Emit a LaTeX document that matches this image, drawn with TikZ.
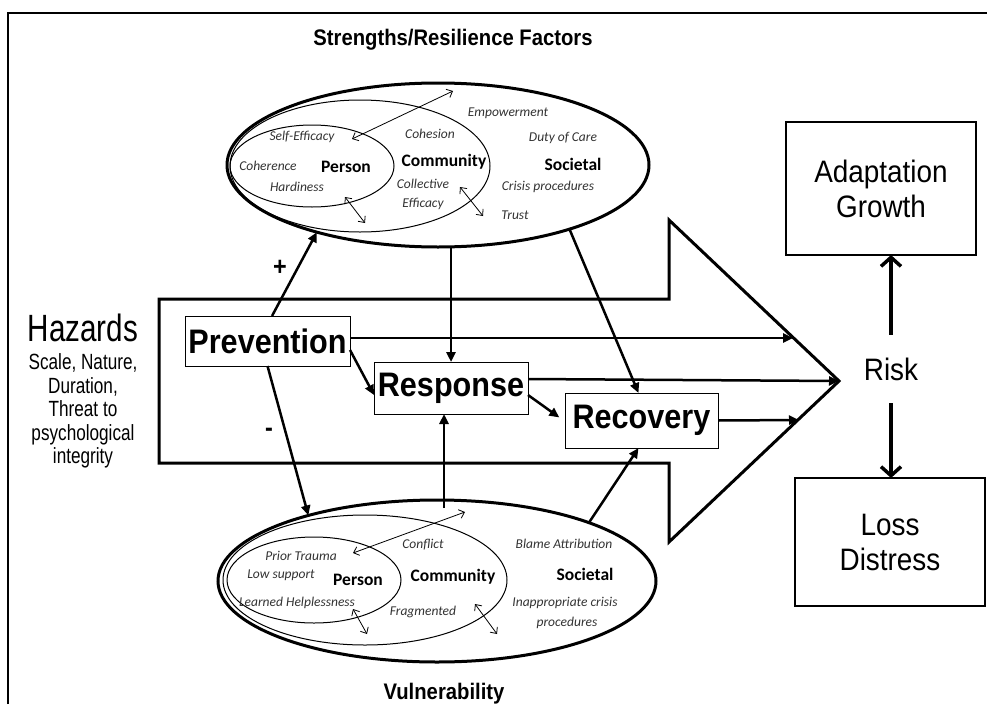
\documentclass[tikz,border=0pt]{standalone}
\usepackage{fontspec}
\setmainfont{Liberation Sans}
\newfontfamily\arialn[FakeStretch=0.9]{Liberation Sans}
\newfontfamily\arialnn[FakeStretch=0.78]{Liberation Sans}
\newfontfamily\calfont{Carlito}
\usetikzlibrary{arrows.meta,shapes.geometric}
\newcommand\setfs[2]{\fontsize{#1}{#2}\selectfont}
\begin{document}
\begin{tikzpicture}[x=1pt,y=-1pt,
  bigell/.style={ellipse, draw, line width=3pt, inner sep=0pt, outer sep=0pt},
  smallell/.style={ellipse, draw, line width=1pt, inner sep=0pt, outer sep=0pt},
  proc/.style={draw, fill=white, line width=1pt, inner sep=0pt, outer sep=0pt, font=\arialn\bfseries\setfs{34}{40}},
  outc/.style={draw, line width=2pt, inner sep=0pt, outer sep=0pt, align=center, font=\arialn\setfs{31}{35}},
  lab/.style={font=\calfont\itshape\setfs{13.5}{16}, text=black!80, inner sep=0pt},
  lvl/.style={font=\calfont\bfseries\setfs{17.5}{20}, inner sep=0pt},
  head/.style={font=\arialn\bfseries\setfs{22.5}{26}, inner sep=0pt},
  conn/.style={line width=2.5pt, -{Triangle[length=10pt,width=9pt]}},
  dbl/.style={line width=0.8pt, {Straight Barb[length=5pt,width=9pt]}-{Straight Barb[length=5pt,width=9pt]}},
  riskarr/.style={line width=3.5pt, -{Straight Barb[length=9pt,width=20pt]}}]
\useasboundingbox (0,0) rectangle (987,704);
\fill[white] (0,0) rectangle (987,704);
% frame
\draw[line width=2pt] (8,704) -- (8,13) -- (987,13);

% block arrow
\draw[line width=3pt, line join=miter] (159,299) -- (669,299) -- (669,220) -- (839,381) -- (669,542) -- (669,463) -- (159,463) -- cycle;
\coordinate (h1) at (793,338);
\coordinate (tip) at (839,381);
\coordinate (h3) at (799,420);

% titles
\node[head] (ttl) at (453,40) {Strengths/Resilience Factors};
\node[head, anchor=base] (vul) at (444,699) {Vulnerability};

% hazards
\node[font=\arialnn\setfs{38}{42}, anchor=base, inner sep=0pt] (haz) at (83,341) {Hazards};
\node[font=\arialnn\setfs{22}{23.5}, align=center, inner sep=0pt] (hazt) at (83,411) {Scale, Nature,\\Duration,\\Threat to\\psychological\\integrity};

% top ellipses
\node[bigell, minimum width=422pt, minimum height=164pt] (topE) at (438,165) {};
\node[smallell, minimum width=260pt, minimum height=132pt] (topC) at (360,166) {};
\node[smallell, minimum width=164pt, minimum height=82pt] (topP) at (312,166) {};

\node[lab] (t1) at (508,113) {Empowerment};
\node[lab] (t2) at (302,137) {Self-Efficacy};
\node[lab] (t3) at (430,134) {Cohesion};
\node[lab] (t4) at (563,138) {Duty of Care};
\node[lab] (t5) at (268,166) {Coherence};
\node[lab] (t6) at (297,187) {Hardiness};
\node[lab] (t7) at (423,184) {Collective};
\node[lab] (t8) at (423,204) {Efficacy};
\node[lab] (t9) at (548,187) {Crisis procedures};
\node[lab] (t10) at (515,215) {Trust};
\node[lvl] (tP) at (346,167) {Person};
\node[lvl] (tC) at (444,162) {Community};
\node[lvl] (tS) at (573,164) {Societal};

\coordinate (ta1) at (352,139); \coordinate (tb1) at (453,91);
\coordinate (ta2) at (345,197); \coordinate (tb2) at (365,223);
\coordinate (ta3) at (460,187); \coordinate (tb3) at (483,216);
\draw[dbl] (ta1) -- (tb1);
\draw[dbl] (ta2) -- (tb2);
\draw[dbl] (ta3) -- (tb3);

% bottom ellipses
\node[bigell, minimum width=438pt, minimum height=162pt] (botE) at (437,581) {};
\node[smallell, minimum width=284pt, minimum height=130pt] (botC) at (365,580) {};
\node[smallell, minimum width=174pt, minimum height=86pt] (botP) at (314,580) {};

\node[lab] (b1) at (301,556) {Prior Trauma};
\node[lab] (b2) at (423,545) {Conflict};
\node[lab] (b3) at (564,544) {Blame Attribution};
\node[lab] (b4) at (281,575) {Low support};
\node[lab] (b5) at (297,603) {Learned Helplessness};
\node[lab] (b6) at (423,612) {Fragmented};
\node[lab] (b7) at (565,603) {Inappropriate crisis};
\node[lab] (b8) at (567,623) {procedures};
\node[lvl] (bP) at (358,580) {Person};
\node[lvl] (bC) at (453,577) {Community};
\node[lvl] (bS) at (585,574) {Societal};

\coordinate (ba1) at (353,553); \coordinate (bb1) at (465,512);
\coordinate (ba2) at (353,609); \coordinate (bb2) at (367,634);
\coordinate (ba3) at (475,604); \coordinate (bb3) at (497,634);
\draw[dbl] (ba1) -- (bb1);
\draw[dbl] (ba2) -- (bb2);
\draw[dbl] (ba3) -- (bb3);

% process boxes
\node[proc, minimum width=165pt, minimum height=50pt] (prev) at (267.5,341) {Prevention};
\node[proc, minimum width=154pt, minimum height=52pt] (resp) at (451,388) {Response};
\node[proc, minimum width=153pt, minimum height=55pt] (rec) at (641.5,420.5) {Recovery};

% outcome boxes
\node[outc, minimum width=190pt, minimum height=133pt] (adapt) at (881,188.5) {Adaptation\\Growth};
\node[outc, minimum width=190pt, minimum height=128pt] (loss) at (890,542) {Loss\\Distress};
\node[font=\arialn\setfs{31}{35}, minimum height=68pt, inner sep=0pt] (risk) at (891,369) {Risk};

% signs
\node[font=\arialn\bfseries\setfs{26}{30}, inner sep=0pt] (plus) at (280,268) {+};
\node[font=\arialn\bfseries\setfs{26}{30}, inner sep=0pt] (minus) at (269,432) {-};

% connectors
\draw[conn] ([xshift=4.5pt]prev.north) -- (topE.209);
\draw[conn] (prev.south) -- (botE.153);
\draw[conn] ([yshift=-9pt]prev.east) -- ([yshift=-7pt]resp.west);
\draw[conn] ([yshift=3pt]prev.east) -- (h1);
\draw[conn] ([yshift=9pt]resp.east) -- (tip);
\draw[conn] (rec.east) -- (h3);
\draw[conn] (topE.south -| resp.north) -- (resp.north);
\draw[conn] (topE.334.7) -- ([xshift=-3pt]rec.north);
\draw[conn, shorten >=7pt] ([yshift=-7pt]resp.east) -- ([yshift=-1pt]rec.west);
\draw[conn] ([xshift=7pt,yshift=-8pt]botE.north) -- ([xshift=-7pt]resp.south);
\draw[conn] (botE.21.7) -- ([xshift=-3pt]rec.south);

\draw[riskarr] (risk.north) -- (risk.north |- adapt.south);
\draw[riskarr] (risk.south) -- (risk.south |- loss.north);
\end{tikzpicture}
\end{document}
